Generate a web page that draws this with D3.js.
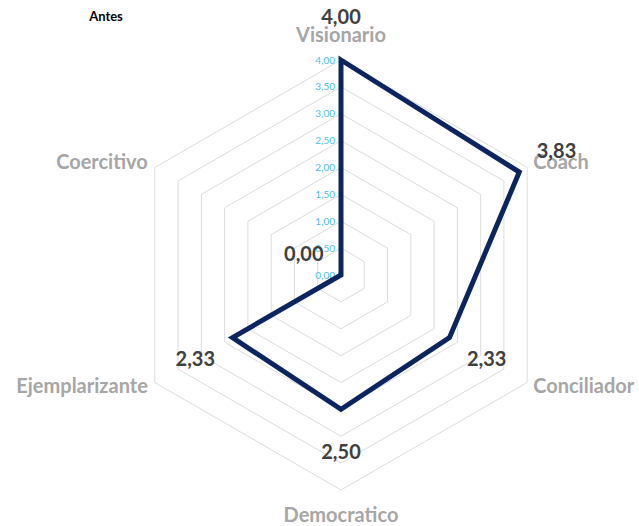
<!DOCTYPE html>
<html>
<head>
<meta charset="utf-8">
<script src="https://cdn.jsdelivr.net/npm/d3@7"></script>
<style>
    body { margin: 0; background: #fff; }
    svg { display: block; font-family: Lato, "Open Sans", sans-serif; }
</style>
</head>
<body>
<svg id="chart" width="639" height="526"></svg>
<script>
const categories = ["Visionario", "Coach", "Conciliador", "Democratico", "Ejemplarizante", "Coercitivo"];
const values = [4.00, 3.83, 2.33, 2.50, 2.33, 0.00];
const ticks = [0, 0.5, 1, 1.5, 2, 2.5, 3, 3.5, 4];
const title = "Antes";

const fmt = v => d3.format(".2f")(v).replace(".", ",");

const svg = d3.select("#chart");
const cx = 341, cy = 275;

const r = d3.scaleLinear().domain([0, 4]).range([0, 215]);
const step = 2 * Math.PI / categories.length;
const ang = c => categories.indexOf(c) * step;

const g = svg.append("g").attr("transform", `translate(${cx},${cy})`);

// grid rings
const ring = d3.lineRadial()
    .angle(c => ang(c))
    .curve(d3.curveLinearClosed);

g.selectAll(".ring")
    .data(ticks.filter(t => t > 0))
    .join("path")
    .attr("class", "ring")
    .attr("d", t => ring.radius(() => r(t))(categories))
    .attr("fill", "none")
    .attr("stroke", "#dcdcdc")
    .attr("stroke-width", 1);

// tick labels along the top axis
g.selectAll(".tick")
    .data(ticks)
    .join("text")
    .attr("class", "tick")
    .attr("x", -6)
    .attr("y", t => -r(t))
    .attr("dy", "0.35em")
    .attr("text-anchor", "end")
    .attr("font-size", 10)
    .attr("fill", "#4cc0f0")
    .text(fmt);

// series polygon
const line = d3.lineRadial()
    .angle((d, i) => i * step)
    .radius(d => r(d))
    .curve(d3.curveLinearClosed);

g.append("path")
    .datum(values)
    .attr("d", line)
    .attr("fill", "none")
    .attr("stroke", "#0c2461")
    .attr("stroke-width", 5)
    .attr("stroke-linejoin", "miter");

// category labels
const outer = r(4);
categories.forEach((c, i) => {
    const a = i * step;
    const vx = outer * Math.sin(a), vy = -outer * Math.cos(a);
    const sx = Math.sin(a);
    let x = vx, y = vy, anchor = "middle";
    if (Math.abs(sx) < 0.01) {
        y = vy < 0 ? vy - 25 : vy + 25;
    } else {
        x = vx + (sx > 0 ? 6 : -7);
        y = vy + (vy < 0 ? -6 : 3);
        anchor = sx > 0 ? "start" : "end";
    }
    g.append("text")
        .attr("x", x).attr("y", y).attr("dy", "0.35em")
        .attr("text-anchor", anchor)
        .attr("font-size", 20)
        .attr("font-weight", "bold")
        .attr("fill", "#a6a6a6")
        .text(c);
});

// data labels
values.forEach((v, i) => {
    const a = i * step;
    const rr = r(v) + 43;
    g.append("text")
        .attr("x", rr * Math.sin(a))
        .attr("y", -rr * Math.cos(a))
        .attr("dy", "0.35em")
        .attr("text-anchor", "middle")
        .attr("font-size", 20)
        .attr("font-weight", "bold")
        .attr("fill", "#404040")
        .text(fmt(v));
});

svg.append("text")
    .attr("x", 106).attr("y", 16).attr("dy", "0.35em")
    .attr("text-anchor", "middle")
    .attr("font-size", 13)
    .attr("font-weight", "bold")
    .attr("fill", "#000")
    .text(title);
</script>
</body>
</html>
